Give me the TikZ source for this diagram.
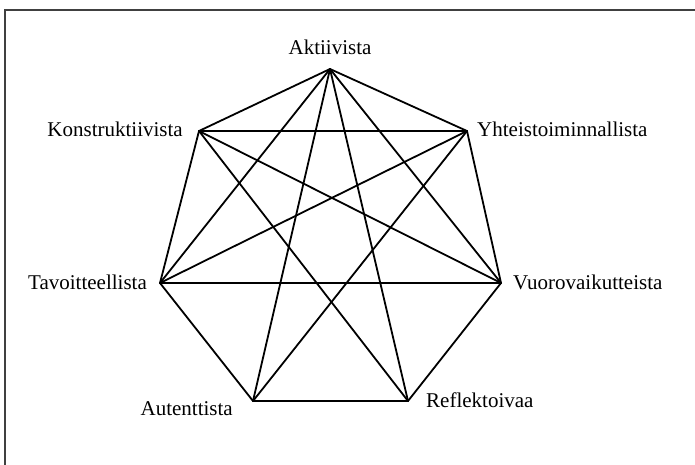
\documentclass[tikz,border=0pt]{standalone}
\usepackage{fontspec}
\setmainfont{Liberation Serif}
\begin{document}
\begin{tikzpicture}[x=1pt,y=-1pt,
  edge/.style={line width=1.8pt, black, line cap=round},
  frame/.style={line width=1.8pt, black!75},
  lbl/.style={font=\fontsize{21}{25}\selectfont, inner sep=0pt}]
\useasboundingbox (0,0) rectangle (695,465);
% frame (clipped at bottom and right)
\coordinate (fb) at (5,470);
\coordinate (ftl) at (5,10);
\coordinate (fr) at (700,10);
\draw[frame] (fb) -- (ftl) -- (fr);
% vertices
\coordinate (A)  at (330,69);
\coordinate (K)  at (199,131);
\coordinate (Y)  at (467,131);
\coordinate (T)  at (160,283);
\coordinate (V)  at (501,283);
\coordinate (Au) at (253,401);
\coordinate (R)  at (408,401);
% labels
\node[lbl, anchor=base]      (lA)  at (330,55)  {Aktiivista};
\node[lbl, anchor=base east] (lK)  at (183,137) {Konstruktiivista};
\node[lbl, anchor=base west] (lY)  at (477,137) {Yhteistoiminnallista};
\node[lbl, anchor=base east] (lT)  at (147,289) {Tavoitteellista};
\node[lbl, anchor=base west] (lV)  at (513,289) {Vuorovaikutteista};
\node[lbl, anchor=base east] (lAu) at (233,415) {Autenttista};
\node[lbl, anchor=base west] (lR)  at (426,407) {Reflektoivaa};
% heptagon
\draw[edge] (A) -- (Y) -- (V) -- (R) -- (Au) -- (T) -- (K) -- cycle;
% {7/3} star
\draw[edge] (A) -- (R);
\draw[edge] (Y) -- (Au);
\draw[edge] (V) -- (T);
\draw[edge] (R) -- (K);
\draw[edge] (Au) -- (A);
\draw[edge] (T) -- (Y);
\draw[edge] (K) -- (V);
% partial {7/2}
\draw[edge] (K) -- (Y);
\draw[edge] (T) -- (A);
\draw[edge] (A) -- (V);
\end{tikzpicture}
\end{document}
